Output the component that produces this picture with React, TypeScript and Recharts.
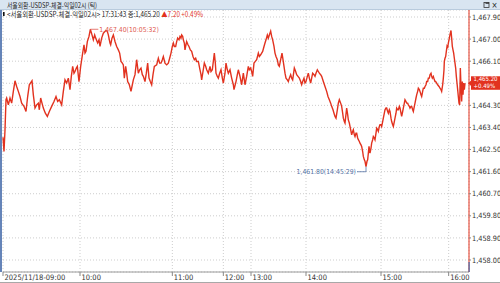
import React from 'react';
import { LineChart, Line, XAxis, YAxis, CartesianGrid, ReferenceDot } from 'recharts';

const titleText = '서울외환-USDSP-체결-익일02시 (틱)';
const infoMain = '<서울외환-USDSP-체결-익일02시> 17:31:43 종:1,465.20';
const infoChange = '▲7.20 +0.49%';
const changePct = '+0.49%';
const maxTime = '10:05:32';
const minTime = '14:45:29';

const hourSeq = [0, 231, 508, 661, 744, 909, 1134, 1337];
const hourLabels = ['2025/11/18-09:00', '10:00', '11:00', '12:00', '13:00', '14:00', '15:00', '16:00'];
const priceTicks = [1458.0, 1458.9, 1459.8, 1460.7, 1461.6, 1462.5, 1463.4, 1464.3, 1465.2, 1466.1, 1467.0, 1467.9];

const tickSeq = [
  0, 3, 6, 9, 11, 16, 21, 26, 31, 36, 41, 46, 51, 56, 63, 69, 74, 79, 87, 91, 96, 101, 106, 109, 113, 117, 121, 127, 133, 139,
  146, 153, 159, 164, 169, 176, 181, 186, 191, 196, 201, 205, 209, 213, 216, 220, 223, 228, 233, 239, 243, 246, 249, 253, 258,
  262, 267, 271, 275, 278, 284, 288, 291, 296, 301, 305, 309, 313, 316, 321, 323, 327, 331, 336,
  341, 346, 350, 354, 358, 361, 364, 368, 371, 374, 379, 384, 388, 391, 396, 401, 406, 410, 414, 418, 421, 426, 430, 434, 438,
  442, 446, 450, 454, 461, 466, 470, 474, 478, 481, 486, 491, 496, 500, 504, 508, 511, 514, 518, 521, 524, 528, 531, 534, 536,
  539, 541, 544, 546, 549, 551, 555, 558, 562, 566, 570, 574, 578, 581, 586, 591, 594, 596, 600, 604, 608, 611, 616, 621, 624,
  628, 631, 634, 637, 639, 643, 646, 650, 654, 658, 661, 666, 669, 673, 676, 681, 686, 691,
  693, 699, 703, 706, 711, 716, 721, 726, 731, 736, 739, 743, 746, 749, 753, 757, 761, 766, 769, 773, 776, 779, 783, 786, 789,
  793, 796, 799, 803, 806, 809, 813, 816, 819, 823, 826, 829, 833, 837, 840, 843, 846, 849, 853, 856, 859, 863, 866, 869, 874,
  878, 881, 885, 889, 893, 896, 899, 903, 906, 909, 913, 916, 919, 923, 926, 929, 933, 936, 939, 943, 946, 949, 953, 956, 961,
  966, 971, 975, 979, 983, 986, 990, 993, 996, 999, 1003, 1006, 1009, 1013, 1016, 1019, 1021, 1024, 1026,
  1031, 1034, 1036, 1039, 1041, 1044, 1046, 1049, 1051, 1054, 1056, 1059, 1061, 1064, 1066, 1069, 1071, 1074, 1076, 1079, 1081,
  1084, 1086, 1089, 1092, 1094, 1096, 1098, 1101, 1104, 1106, 1109, 1111, 1114, 1116, 1119, 1121, 1124, 1126, 1129, 1131, 1134,
  1136, 1139, 1141, 1144, 1146, 1149, 1151, 1154, 1156, 1159, 1161, 1164, 1166, 1169, 1171, 1174, 1176, 1179, 1181, 1184, 1186,
  1189, 1191, 1194, 1196, 1199, 1201, 1204, 1206, 1209, 1211, 1214, 1216, 1219, 1221, 1224, 1226, 1229, 1231, 1234, 1236, 1239,
  1241, 1244, 1246, 1249, 1251, 1254, 1256, 1259, 1261, 1264, 1266, 1269, 1271, 1274, 1276, 1279, 1281, 1284, 1286, 1288, 1291,
  1294, 1296, 1298, 1301, 1304, 1308, 1311, 1314, 1316, 1319, 1321, 1323, 1324, 1326, 1328, 1330, 1332, 1334, 1336, 1338, 1340,
  1342, 1344, 1346, 1348, 1350, 1352, 1354, 1356, 1358, 1360, 1362, 1364, 1366, 1368, 1370, 1372, 1374, 1376, 1378, 1380, 1382,
  1384, 1386,
];

const tickPrice = [
  1463.00, 1462.42, 1463.30, 1464.53, 1464.60, 1464.32, 1464.60, 1464.39, 1464.87, 1465.30, 1465.07, 1464.87, 1464.66, 1464.39,
  1464.26, 1464.05, 1464.66, 1465.14, 1465.30, 1464.73, 1464.19, 1464.32, 1464.39, 1464.12, 1464.60, 1464.39, 1464.19, 1463.98,
  1463.85, 1464.05, 1464.26, 1464.46, 1464.66, 1464.46, 1464.53, 1464.32, 1464.87, 1465.34, 1465.21, 1465.41, 1464.94, 1465.48,
  1465.89, 1465.61, 1465.68, 1465.82, 1465.89, 1465.27, 1465.89, 1466.43, 1466.77, 1466.43, 1466.50, 1466.90, 1467.11, 1467.40,
  1467.17, 1466.97, 1467.17, 1467.04, 1466.84, 1466.97, 1466.70, 1467.04, 1467.24, 1467.30, 1467.35, 1467.31, 1467.17, 1466.84,
  1466.77, 1467.04, 1467.17, 1466.90,
  1466.70, 1466.56, 1466.43, 1466.09, 1466.02, 1465.95, 1465.41, 1465.89, 1465.61, 1465.27, 1465.14, 1464.87, 1465.14, 1465.34,
  1465.55, 1466.16, 1465.61, 1465.75, 1465.82, 1465.55, 1465.48, 1465.27, 1465.61, 1466.02, 1465.41, 1465.27, 1465.14, 1465.55,
  1465.89, 1465.95, 1466.22, 1466.02, 1466.02, 1466.16, 1466.29, 1466.02, 1465.95, 1466.02, 1466.22, 1466.43, 1466.70, 1466.84,
  1466.70, 1466.70, 1466.90, 1467.04, 1466.97, 1467.11, 1467.04, 1467.17, 1467.11, 1466.97, 1466.84, 1466.56, 1466.77, 1466.90,
  1466.77, 1466.70, 1466.56, 1466.50, 1466.29, 1466.16, 1466.22, 1466.09, 1466.09, 1465.75, 1465.55, 1465.34, 1465.68, 1466.02,
  1465.89, 1465.75, 1465.61, 1465.89, 1465.68, 1465.75, 1466.09, 1466.43, 1466.02, 1465.61, 1465.48, 1465.41, 1465.61, 1465.75,
  1465.41, 1465.21, 1465.61, 1466.02, 1465.75, 1465.61, 1465.75, 1465.41, 1465.14,
  1464.94, 1465.27, 1465.55, 1465.75, 1465.48, 1465.14, 1465.61, 1465.14, 1465.48, 1465.89, 1465.75, 1465.82, 1465.68, 1465.48,
  1466.02, 1466.09, 1466.16, 1466.43, 1466.29, 1466.36, 1466.43, 1466.50, 1466.70, 1466.84, 1466.97, 1467.17, 1467.04, 1467.17,
  1467.32, 1467.11, 1466.97, 1466.70, 1466.43, 1466.29, 1466.16, 1465.95, 1465.89, 1466.16, 1466.43, 1466.16, 1465.89, 1465.61,
  1465.41, 1465.34, 1465.27, 1465.41, 1465.55, 1465.41, 1465.34, 1465.82, 1465.68, 1465.55, 1465.48, 1465.41, 1465.27, 1465.14,
  1465.27, 1465.41, 1465.21, 1465.27, 1465.48, 1465.61, 1465.41, 1465.21, 1465.41, 1465.61, 1465.55, 1465.48, 1465.61, 1465.75,
  1465.68, 1465.61, 1465.55, 1465.48, 1465.27, 1465.07, 1464.87, 1464.66, 1464.53, 1464.39, 1464.26, 1464.12, 1463.98, 1463.85,
  1463.78, 1464.12, 1464.39, 1464.53, 1464.39, 1464.26, 1463.98, 1463.78, 1463.64, 1463.58,
  1464.19, 1463.92, 1463.71, 1463.58, 1463.44, 1463.24, 1463.10, 1463.24, 1463.31, 1463.10, 1463.03, 1463.17, 1463.17, 1462.97,
  1462.90, 1462.83, 1462.76, 1462.69, 1462.63, 1462.42, 1462.22, 1462.08, 1462.02, 1461.80, 1462.02, 1462.08, 1462.35, 1462.63,
  1462.35, 1462.56, 1462.76, 1462.90, 1463.03, 1462.97, 1462.90, 1463.17, 1463.37, 1463.31, 1463.24, 1463.44, 1463.51, 1463.51,
  1463.44, 1463.64, 1463.78, 1463.98, 1464.12, 1464.19, 1464.19, 1464.05, 1463.98, 1464.12, 1464.05, 1463.78, 1463.64, 1463.51,
  1463.44, 1463.64, 1463.78, 1463.98, 1464.19, 1464.12, 1464.12, 1464.26, 1464.19, 1463.98, 1463.85, 1464.05, 1464.19, 1464.39,
  1464.53, 1464.46, 1464.39, 1464.39, 1464.32, 1464.26, 1464.19, 1464.26, 1464.26, 1464.12, 1464.05, 1464.26, 1464.39, 1464.60,
  1464.73, 1464.87, 1465.00, 1464.94, 1464.87, 1464.73, 1464.66, 1464.87, 1465.00, 1465.00, 1465.07, 1465.14, 1465.27, 1465.27,
  1465.41, 1465.41, 1465.55, 1465.61, 1465.48, 1465.41, 1465.48, 1465.34, 1465.27, 1465.27, 1465.21, 1465.14, 1465.07, 1465.00,
  1464.94, 1464.87, 1465.14, 1465.41, 1465.75, 1466.09, 1466.22, 1466.29, 1466.50, 1466.70, 1466.63, 1466.84, 1466.97, 1467.11,
  1467.24, 1467.35, 1467.04, 1466.70, 1466.56, 1466.43, 1466.22, 1466.02, 1465.82, 1465.48, 1465.21, 1464.94, 1464.66, 1464.39,
  1464.32, 1465.82, 1465.07, 1464.46, 1465.27, 1464.73, 1465.21, 1464.94, 1465.20,
];

const data = tickSeq.map((s, i) => ({ seq: s, price: tickPrice[i] }));

const RED = '#e2321f';
const NARROW = '"Liberation Sans Narrow", "DejaVu Sans Condensed", sans-serif';
const KR = '"Noto Sans CJK KR", sans-serif';

const fmt = (v: number) =>
  v.toLocaleString('en-US', { minimumFractionDigits: 2, maximumFractionDigits: 2 });

let maxIdx = 0;
let minIdx = 0;
tickPrice.forEach((p, i) => {
  if (p > tickPrice[maxIdx]) maxIdx = i;
  if (p < tickPrice[minIdx]) minIdx = i;
});
const lastIdx = tickPrice.length - 1;
const lastPrice = tickPrice[lastIdx];

const XTick = (props: any) => {
  const { x, y, payload } = props;
  const i = hourSeq.indexOf(payload.value);
  return (
    <text x={x + 1.5} y={y + 4} fontSize={7.5} fill="#333" fontFamily={NARROW} textAnchor="start">
      {hourLabels[i] ?? ''}
    </text>
  );
};

// Right axis tick: normal label, or the last-price badge when the tick equals the close
const YTick = (props: any) => {
  const { x, y, payload } = props;
  const v = payload.value as number;
  if (Math.abs(v - lastPrice) < 1e-6) {
    const left = x - 3;
    return (
      <g>
        <polygon points={`${left - 1},${y} ${left + 3},${y - 3.5} ${left + 3},${y + 3.5}`} fill={RED} />
        <rect x={left + 2} y={y - 7} width={29} height={13.5} fill={RED} />
        <text x={left + 4.5} y={y - 1.8} fontSize={6} fill="#fff" fontFamily={NARROW}>
          {fmt(lastPrice)}
        </text>
        <text x={left + 4.5} y={y + 4.6} fontSize={6} fill="#fff" fontFamily={NARROW}>
          {changePct}
        </text>
      </g>
    );
  }
  return (
    <text x={x} y={y + 2.6} fontSize={7.3} fill="#333" fontFamily={NARROW} textAnchor="start">
      {fmt(v)}
    </text>
  );
};

const MaxMarker = (props: any) => {
  const { cx, cy } = props;
  return (
    <g>
      <line x1={cx} y1={cy} x2={cx + 8} y2={cy} stroke="#e05a50" strokeWidth={0.8} />
      <text x={cx + 9} y={cy + 2.4} fontSize={6.8} fill="#e05a50" fontFamily={NARROW}>
        {`${fmt(tickPrice[maxIdx])}(${maxTime})`}
      </text>
    </g>
  );
};

const MinMarker = (props: any) => {
  const { cx, cy } = props;
  return (
    <g>
      <line x1={cx} y1={cy} x2={cx} y2={cy + 5} stroke="#5573a6" strokeWidth={0.8} />
      <line x1={cx} y1={cy + 5} x2={cx - 9} y2={cy + 5} stroke="#5573a6" strokeWidth={0.8} />
      <text x={cx - 10} y={cy + 7.4} fontSize={6.8} fill="#5573a6" fontFamily={NARROW} textAnchor="end">
        {`${fmt(tickPrice[minIdx])}(${minTime})`}
      </text>
    </g>
  );
};

export default function App() {
  return (
    <div style={{ position: 'absolute', left: 0, top: 0, width: 500, height: 283, background: '#fff', overflow: 'hidden' }}>
      <LineChart width={500} height={283} data={data} margin={{ top: 10, right: 0, bottom: 0, left: 3 }}>
        <CartesianGrid stroke="#cdcdcd" strokeDasharray="1 2" />
        <XAxis
          dataKey="seq"
          type="number"
          domain={[0, 1398]}
          ticks={hourSeq}
          interval={0}
          height={11}
          tickSize={4}
          tickMargin={0}
          axisLine={{ stroke: '#9a9a9a' }}
          tickLine={{ stroke: '#888' }}
          tick={<XTick />}
        />
        <Line
          type="linear"
          dataKey="price"
          stroke={RED}
          strokeWidth={1.4}
          dot={false}
          isAnimationActive={false}
        />
        <ReferenceDot x={tickSeq[maxIdx]} y={tickPrice[maxIdx]} r={0} ifOverflow="visible" shape={MaxMarker} />
        <ReferenceDot x={tickSeq[minIdx]} y={tickPrice[minIdx]} r={0} ifOverflow="visible" shape={MinMarker} />
        <YAxis
          orientation="right"
          width={31}
          domain={[1458, 1467.9]}
          allowDataOverflow
          padding={{ top: 7, bottom: 12 }}
          ticks={priceTicks}
          interval={0}
          tickSize={2}
          tickMargin={1}
          axisLine={{ stroke: RED }}
          tickLine={{ stroke: '#888' }}
          tick={<YTick />}
        />
      </LineChart>
      <svg width={500} height={283} style={{ position: 'absolute', left: 0, top: 0, pointerEvents: 'none' }}>
        <rect x={0} y={0} width={500} height={10} fill="#d9e5f1" />
        <line x1={0} y1={9.5} x2={500} y2={9.5} stroke="#b9cbdd" strokeWidth={1} />
        <text x={7} y={8} fontSize={7} fill="#222" fontFamily={KR} textLength={90} lengthAdjust="spacingAndGlyphs">
          {titleText}
        </text>
        <rect x={484} y={2.5} width={5} height={5} fill="none" stroke="#333" strokeWidth={0.8} />
        <rect x={485.5} y={2.5} width={3.5} height={1.3} fill="#333" />
        <text x={494.5} y={8} fontSize={8} fill="#222" fontFamily={NARROW} textAnchor="middle">×</text>
        <rect x={3} y={12} width={1.6} height={4} fill="#111" />
        <text x={7} y={16.5} fontSize={7} fill="#222" fontFamily={KR} textLength={196} lengthAdjust="spacingAndGlyphs">
          {infoMain + ' '}
          <tspan fill={RED}>{infoChange}</tspan>
        </text>
        <rect x={0} y={10} width={2} height={262} fill="#6584b8" />
        <rect x={468.5} y={262} width={1.2} height={10} fill="#4a6fb0" />
        <line x1={0} y1={282.5} x2={500} y2={282.5} stroke="#a8a8a8" strokeWidth={1} />
      </svg>
    </div>
  );
}
